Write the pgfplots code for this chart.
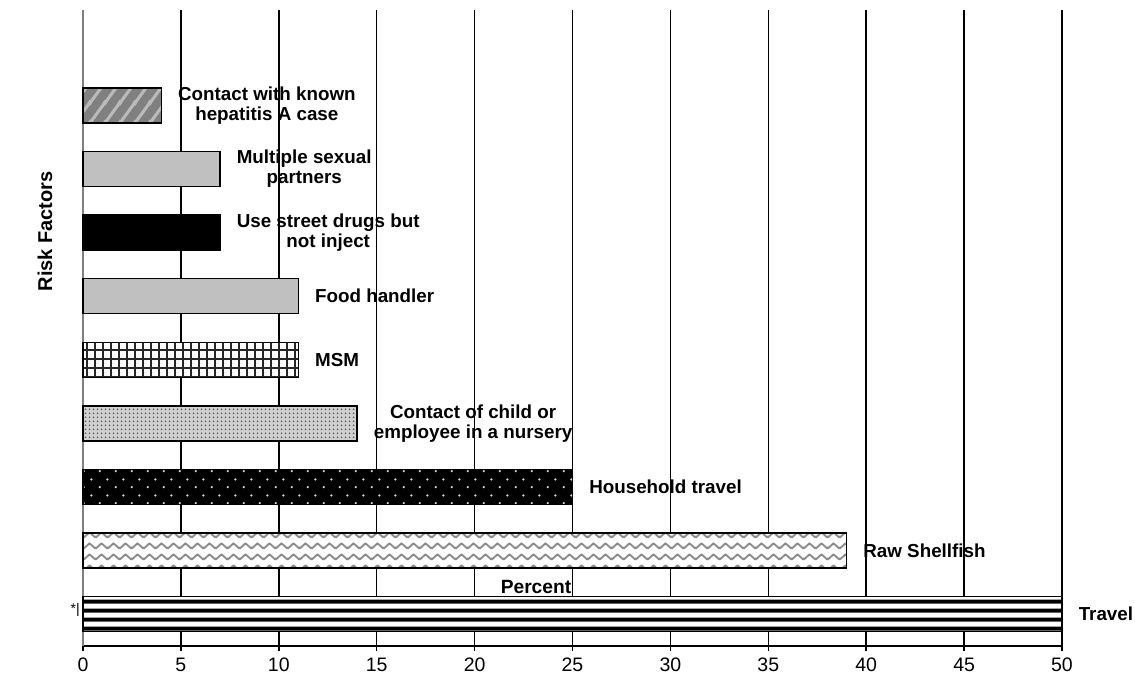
\documentclass[border=0pt]{standalone}
\usepackage{fontspec}
\setmainfont{Liberation Sans}
\usepackage{pgfplots}
\pgfplotsset{compat=1.18}
\usetikzlibrary{patterns.meta}

\definecolor{barlight}{HTML}{C0C0C0}

% dark gray with light slanted stripes
\tikzdeclarepattern{
  name=slantgray, type=colored,
  bounding box={(0pt,0pt) and (7.5pt,10pt)},
  tile size={(7.5pt,10pt)},
  code={
    \path[fill=black!50] (-0.5pt,-0.5pt) rectangle (8pt,10.5pt);
    \path[draw=black!27, line width=1.6pt]
      (-1pt,-1.333pt) -- (8.5pt,11.333pt)
      (-1pt,8.667pt) -- (1pt,11.333pt)
      (6.5pt,-1.333pt) -- (8.5pt,1.333pt);
  }
}
% square grid
\tikzdeclarepattern{
  name=finegrid, type=colored,
  bounding box={(0pt,0pt) and (4.2pt,4.2pt)},
  tile size={(4.2pt,4.2pt)},
  code={
    \path[fill=white] (-0.5pt,-0.5pt) rectangle (4.7pt,4.7pt);
    \path[draw=black!85, line width=0.9pt]
      (2.1pt,-0.5pt) -- (2.1pt,4.7pt)
      (-0.5pt,2.1pt) -- (4.7pt,2.1pt);
  }
}
% dense small dots
\tikzdeclarepattern{
  name=densedots, type=colored,
  bounding box={(0pt,0pt) and (2pt,2pt)},
  tile size={(2pt,2pt)},
  code={
    \path[fill=black!18] (-0.5pt,-0.5pt) rectangle (2.5pt,2.5pt);
    \path[fill=black!62] (1pt,1pt) circle (0.6pt);
  }
}
% light dots on black
\tikzdeclarepattern{
  name=blackdots, type=colored,
  bounding box={(0pt,0pt) and (8pt,8pt)},
  tile size={(8pt,8pt)},
  code={
    \path[fill=black] (-0.5pt,-0.5pt) rectangle (8.5pt,8.5pt);
    \path[fill=black!15] (2pt,2pt) circle (0.65pt) (6pt,6pt) circle (0.65pt);
  }
}
% gray zigzag waves
\tikzdeclarepattern{
  name=waves, type=colored,
  bounding box={(0pt,0pt) and (6pt,5.5pt)},
  tile size={(6pt,5.5pt)},
  code={
    \path[fill=white] (-0.5pt,-0.5pt) rectangle (6.5pt,6pt);
    \path[draw=black!45, line width=1pt, line join=round]
      (-3pt,4.1pt) -- (0pt,1.4pt) -- (3pt,4.1pt) -- (6pt,1.4pt) -- (9pt,4.1pt);
  }
}
% horizontal black stripes
\tikzdeclarepattern{
  name=hstripes, type=colored,
  bounding box={(0pt,0pt) and (24pt,4.3pt)},
  tile size={(24pt,4.3pt)},
  code={
    \path[fill=white] (-0.5pt,-0.5pt) rectangle (24.5pt,4.8pt);
    \path[fill=black!40] (-0.5pt,0pt) rectangle (24.5pt,2.4pt);
    \path[fill=black] (-0.5pt,0.3pt) rectangle (24.5pt,2.1pt);
  }
}

\begin{document}
\begin{tikzpicture}
\begin{axis}[
  set layers=standard,
  scale only axis,
  width=489.5pt, height=318pt,
  xmin=0, xmax=50, ymin=-0.5, ymax=9.5,
  clip=false,
  xbar, bar width=17.5pt, bar shift=0pt,
  axis x line*=bottom, axis y line*=left,
  x axis line style={black, line width=0.75pt},
  y axis line style={draw=black!50, line width=0.75pt},
  xtick={5,10,...,50},
  extra x ticks={0},
  extra x tick style={grid=none},
  xmajorgrids,
  major grid style={black, line width=0.75pt},
  ytick=\empty,
  tick align=outside,
  major tick length=2.5pt,
  tick style={black, line width=0.75pt},
  /pgf/number format/assume math mode=true,
  tick label style={font=\fontsize{9.75}{11}\selectfont},
  xlabel={Percent},
  xlabel style={at={(axis description cs:0.4627,0.0928)}, anchor=center,
    font=\bfseries\fontsize{9.6}{11}\selectfont},
  ylabel={Risk Factors},
  ylabel style={at={(axis description cs:-0.0388,0.652)}, anchor=center,
    font=\bfseries\fontsize{10}{11}\selectfont},
  every node near coord/.style={anchor=west, align=center, inner sep=0pt,
    xshift=8pt, text=black, fill=none, draw=none,
    font=\bfseries\fontsize{9.4}{10}\selectfont},
]
% Travel
\addplot[draw=black, line width=0.75pt, pattern={hstripes},
  nodes near coords={Travel}] coordinates {(50,0)};
% Raw shellfish
\addplot[draw=black, line width=0.75pt, pattern={waves},
  nodes near coords={Raw Shellfish}] coordinates {(39,1)};
% Household travel
\addplot[draw=black, line width=0.75pt, pattern={blackdots},
  nodes near coords={Household travel}] coordinates {(25,2)};
% Contact of child or employee in a nursery
\addplot[draw=black, line width=0.75pt, pattern={densedots},
  nodes near coords={Contact of child or\\employee in a nursery}] coordinates {(14,3)};
% MSM
\addplot[draw=black, line width=0.75pt, pattern={finegrid},
  nodes near coords={MSM}] coordinates {(11,4)};
% Food handler
\addplot[draw=black, line width=0.75pt, fill=barlight,
  nodes near coords={Food handler}] coordinates {(11,5)};
% Use street drugs but not inject
\addplot[draw=black, line width=0.75pt, fill=black,
  nodes near coords={Use street drugs but\\not inject}] coordinates {(7,6)};
% Multiple sexual partners
\addplot[draw=black, line width=0.75pt, fill=barlight,
  nodes near coords={Multiple sexual\\partners}] coordinates {(7,7)};
% Contact with known hepatitis A case
\addplot[draw=black, line width=0.75pt, pattern={slantgray},
  nodes near coords={Contact with known\\hepatitis A case}] coordinates {(4,8)};

\node[anchor=east, inner sep=0pt, font=\fontsize{7}{8}\selectfont]
  at (axis description cs:-0.003,0.0566) {*|};
\coordinate (frameSW) at (rel axis cs:0,0);
\end{axis}
\path ([xshift=-41.5pt, yshift=-18.5pt]frameSW) rectangle ++(567.5pt,341.5pt);
\end{tikzpicture}
\end{document}
